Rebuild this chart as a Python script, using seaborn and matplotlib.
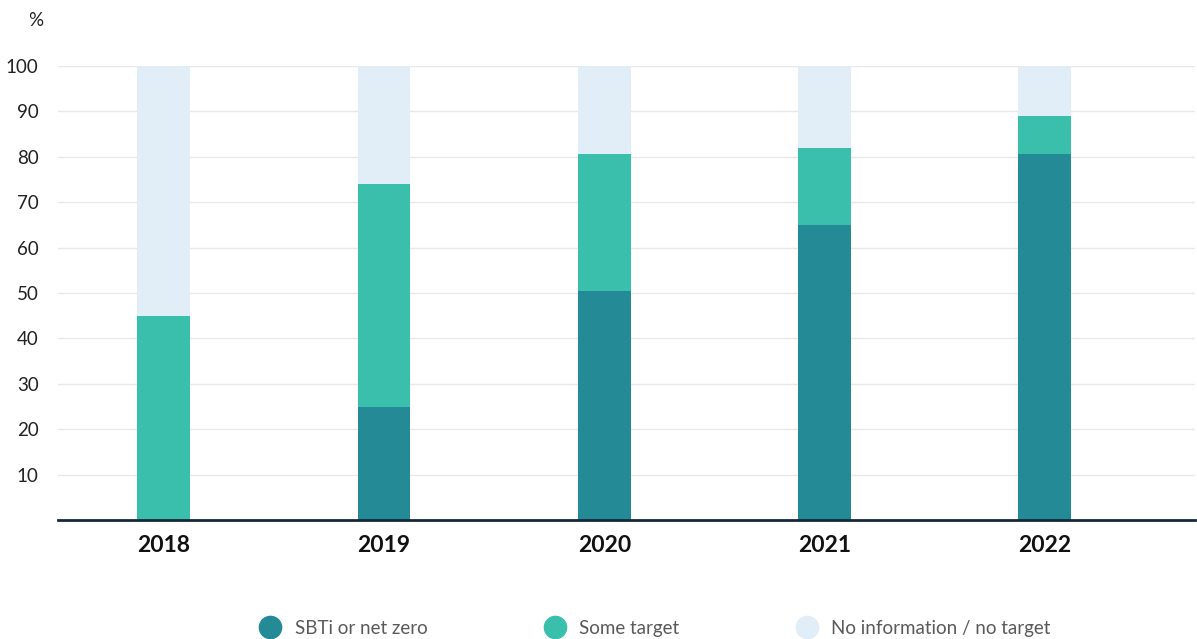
import matplotlib.pyplot as plt
import seaborn as sns
import pandas as pd
from matplotlib.lines import Line2D

years = ["2018", "2019", "2020", "2021", "2022"]
sbti = [0, 25, 50.5, 65, 80.5]
some_target = [45, 49, 30, 17, 8.5]
no_info = [55, 26, 19.5, 18, 11]

series_names = ["SBTi or net zero", "Some target", "No information / no target"]
colors = ["#238a96", "#3bbfad", "#e1eef8"]

df = pd.DataFrame({"year": years, "sbti": sbti, "some": some_target, "none": no_info})
df["lvl1"] = df["sbti"]
df["lvl2"] = df["sbti"] + df["some"]
df["lvl3"] = df["lvl2"] + df["none"]

sns.set_style("white")
plt.rcParams["font.family"] = ["Lato", "DejaVu Sans"]

fig = plt.figure(figsize=(11.97, 6.39), dpi=100)
ax = fig.add_axes([0.0485, 0.186, 0.9495, 0.711])

# layered back to front gives stacked look
for col, c in zip(["lvl3", "lvl2", "lvl1"], colors[::-1]):
    sns.barplot(data=df, x="year", y=col, color=c, width=0.24,
                saturation=1, ax=ax, zorder=2, linewidth=0, edgecolor=c)

ax.set_ylim(0, 100)
ax.set_xlim(-0.48, 4.68)
ax.set_yticks(range(10, 101, 10))
ax.yaxis.grid(True, color="#e8e8e8", linewidth=1, zorder=0)
ax.set_axisbelow(True)
for s in ["top", "right", "left"]:
    ax.spines[s].set_visible(False)
ax.spines["bottom"].set_color("#14283c")
ax.spines["bottom"].set_linewidth(2)
ax.set_xlabel("")
ax.set_ylabel("")
ax.tick_params(axis="y", length=0, labelsize=13.5, colors="#222222", pad=14)
ax.tick_params(axis="x", length=0, labelsize=16.5, pad=11)
for t in ax.get_xticklabels():
    t.set_fontweight("bold")
    t.set_color("#111111")

fig.text(0.036, 0.968, "%", fontsize=13.5, color="#222222", ha="right", va="center")

handles = [Line2D([0], [0], marker="o", linestyle="", markersize=16,
                  markerfacecolor=c, markeredgecolor=c) for c in colors]
leg = fig.legend(handles, series_names, loc="center", bbox_to_anchor=(0.544, 0.017),
                 ncol=3, frameon=False, fontsize=13.5, columnspacing=5.8,
                 handletextpad=0.3)
for t in leg.get_texts():
    t.set_color("#5a5a5a")

fig.savefig("out.png", dpi=100)
